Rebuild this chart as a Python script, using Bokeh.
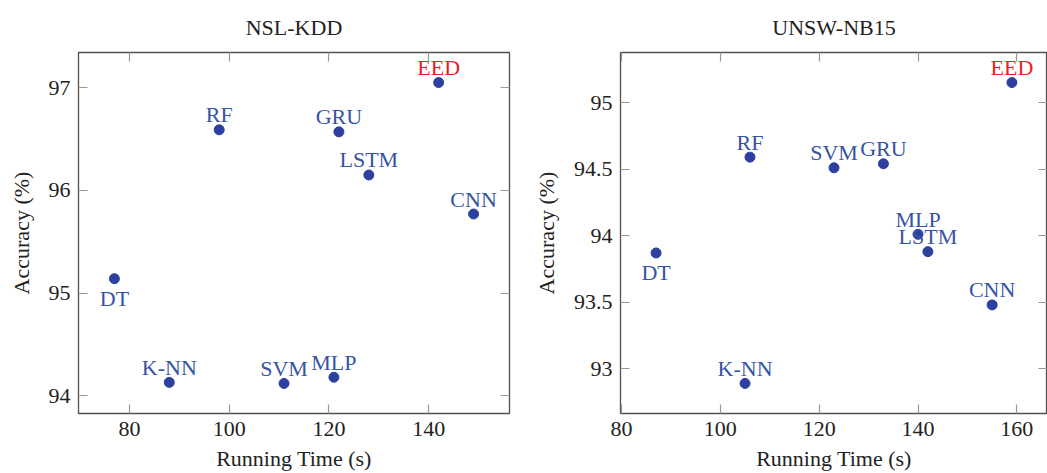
from bokeh.plotting import figure
from bokeh.models import ColumnDataSource, LinearAxis, FixedTicker, Range1d
from bokeh.layouts import row
from bokeh.embed import file_html
from bokeh.resources import INLINE

# ---- data ----
methods_nsl = ["EED", "RF", "GRU", "LSTM", "CNN", "DT", "K-NN", "SVM", "MLP"]
time_nsl = [142, 98, 122, 128, 149, 77, 88, 111, 121]
acc_nsl = [97.05, 96.59, 96.57, 96.15, 95.77, 95.14, 94.13, 94.12, 94.18]

methods_unsw = ["EED", "RF", "SVM", "GRU", "MLP", "LSTM", "CNN", "DT", "K-NN"]
time_unsw = [159, 106, 123, 133, 140, 142, 155, 87, 105]
acc_unsw = [95.15, 94.59, 94.51, 94.54, 94.01, 93.88, 93.48, 93.87, 92.89]

xticks_nsl = [80, 100, 120, 140]
yticks_nsl = [94, 95, 96, 97]
ytick_labels_nsl = ["94", "95", "96", "97"]
xticks_unsw = [80, 100, 120, 140, 160]
yticks_unsw = [93, 93.5, 94, 94.5, 95]
ytick_labels_unsw = ["93", "93.5", "94", "94.5", "95"]

FONT = "Liberation Serif"
FS = "22px"
MARK = "#2d40a0"
LAB = "#3653a5"
RED = "#ee1c25"
FRAME = "#505050"
TICK = "#999999"


def enlarge(vals, frac=0.1):
    lo, hi = min(vals), max(vals)
    d = (hi - lo) * frac
    return lo - d, hi + d


def panel(title, methods, xs, ys, xticks, yticks, ylabels, width, bl, br):
    x0, x1 = enlarge(xs)
    y0, y1 = enlarge(ys)
    p = figure(width=width, height=473, output_backend="svg", toolbar_location=None,
               x_range=Range1d(x0, x1), y_range=Range1d(y0, y1),
               min_border_left=bl, min_border_right=br, min_border_top=52,
               min_border_bottom=58, title=title, x_axis_type=None, y_axis_type=None)
    p.title.align = "center"
    p.title.text_font = FONT
    p.title.text_font_size = FS
    p.title.text_font_style = "normal"
    p.title.text_color = "#222222"
    p.title.standoff = 25
    p.grid.visible = False
    p.outline_line_color = FRAME
    p.outline_line_width = 1.3
    p.background_fill_color = "white"
    p.border_fill_color = "white"

    overrides = {float(t): l for t, l in zip(yticks, ylabels)}
    overrides.update({int(t): l for t, l in zip(yticks, ylabels) if float(t).is_integer()})

    def style(ax, labels=True):
        ax.axis_line_color = None
        ax.major_tick_in = 9
        ax.major_tick_out = 0
        ax.minor_tick_line_color = None
        ax.major_tick_line_color = TICK
        ax.major_tick_line_width = 1.2
        if labels:
            ax.major_label_text_font = FONT
            ax.major_label_text_font_size = FS
            ax.major_label_text_color = "#222222"
            ax.axis_label_text_font = FONT
            ax.axis_label_text_font_size = FS
            ax.axis_label_text_font_style = "normal"
            ax.axis_label_text_color = "#222222"
        else:
            ax.major_label_text_font_size = "1px"
            ax.major_label_text_color = None
            ax.major_label_standoff = 0

    xb = LinearAxis(ticker=FixedTicker(ticks=xticks), axis_label="Running Time (s)")
    style(xb)
    xb.major_label_standoff = 8
    xb.axis_label_standoff = 7
    p.add_layout(xb, "below")
    yl = LinearAxis(ticker=FixedTicker(ticks=yticks), axis_label="Accuracy (%)",
                    major_label_overrides=overrides)
    style(yl)
    yl.major_label_standoff = 8
    yl.axis_label_standoff = 12
    p.add_layout(yl, "left")
    xt = LinearAxis(ticker=FixedTicker(ticks=xticks))
    style(xt, labels=False)
    p.add_layout(xt, "above")
    yr = LinearAxis(ticker=FixedTicker(ticks=yticks))
    style(yr, labels=False)
    p.add_layout(yr, "right")

    colors = [RED if m == "EED" else LAB for m in methods]
    offs = [20 if m == "DT" else -15 for m in methods]
    src = ColumnDataSource(dict(x=xs, y=ys, m=methods, c=colors, o=offs))
    p.scatter("x", "y", source=src, size=10, color=MARK, line_color=MARK)
    p.text("x", "y", text="m", source=src, text_color="c", y_offset="o",
           text_align="center", text_baseline="alphabetic",
           text_font={"value": FONT}, text_font_size={"value": FS})
    return p


p1 = panel("NSL-KDD", methods_nsl, time_nsl, acc_nsl, xticks_nsl, yticks_nsl,
           ytick_labels_nsl, 530, 78, 21)
p2 = panel("UNSW-NB15", methods_unsw, time_unsw, acc_unsw, xticks_unsw, yticks_unsw,
           ytick_labels_unsw, 517, 86, 0)
layout = row(p1, p2, spacing=0)
open("out.html", "w").write(file_html(layout, INLINE))
